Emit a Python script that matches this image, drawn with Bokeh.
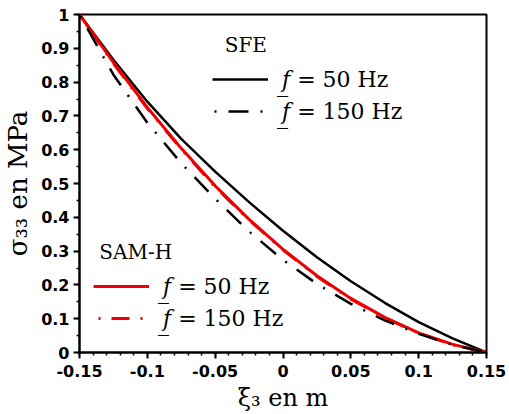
from bokeh.plotting import figure
from bokeh.models import (Range1d, FixedTicker, CustomJSTickFormatter, Legend, LegendItem)
from bokeh.embed import file_html
from bokeh.resources import INLINE

# ---------------- data ----------------
xi = [-0.15, -0.125, -0.1, -0.075, -0.05, -0.025, 0.0, 0.025, 0.05, 0.075, 0.1, 0.125, 0.15]
sfe_50 = [1.0, 0.866, 0.742, 0.632, 0.535, 0.445, 0.36, 0.282, 0.211, 0.147, 0.09, 0.042, 0.0]
sfe_150 = [1.0, 0.822, 0.68, 0.56, 0.455, 0.358, 0.274, 0.203, 0.144, 0.095, 0.055, 0.023, 0.0]
sam_50 = [1.0, 0.858, 0.725, 0.604, 0.493, 0.394, 0.305, 0.227, 0.16, 0.104, 0.058, 0.024, 0.0]
sam_150 = [1.0, 0.855, 0.722, 0.602, 0.49, 0.392, 0.304, 0.225, 0.158, 0.103, 0.057, 0.023, 0.0]

x_ticks = [-0.15, -0.1, -0.05, 0.0, 0.05, 0.1, 0.15]
x_minor = [round(-0.15 + 0.01 * i, 2) for i in range(31)]
y_ticks = [0.0, 0.1, 0.2, 0.3, 0.4, 0.5, 0.6, 0.7, 0.8, 0.9, 1.0]
y_minor = [round(0.05 * i, 2) for i in range(21)]

label_50 = "\U0001D453\u0332 = 50 Hz"
label_150 = "\U0001D453\u0332 = 150 Hz"

# ---------------- figure ----------------
p = figure(width=509, height=414, output_backend="svg", toolbar_location=None,
           x_range=Range1d(-0.15, 0.15), y_range=Range1d(0, 1),
           min_border_left=79, min_border_right=23, min_border_top=14, min_border_bottom=61)
p.grid.visible = False
p.outline_line_color = "black"
p.outline_line_width = 2
p.background_fill_color = "white"
p.border_fill_color = "white"

fmt = CustomJSTickFormatter(code="return String(parseFloat(tick.toFixed(2)));")
for ax, maj, mnr in ((p.xaxis[0], x_ticks, x_minor), (p.yaxis[0], y_ticks, y_minor)):
    ax.ticker = FixedTicker(ticks=maj, minor_ticks=mnr)
    ax.formatter = fmt
    ax.axis_line_width = 2
    ax.axis_line_color = "black"
    ax.major_tick_line_width = 2
    ax.minor_tick_line_width = 1.5
    ax.major_tick_out = 6
    ax.major_tick_in = 0
    ax.minor_tick_out = 3
    ax.minor_tick_in = 0
    ax.major_label_text_font = "DejaVu Sans"
    ax.major_label_text_font_style = "bold"
    ax.major_label_text_font_size = "16px"
    ax.major_label_text_color = "black"
    ax.axis_label_text_font = "DejaVu Serif"
    ax.axis_label_text_font_style = "normal"
    ax.axis_label_text_color = "black"

p.xaxis.axis_label = "\u03BE\u2083 en m"
p.yaxis.axis_label = "\u03C3\u2083\u2083 en MPa"
p.xaxis.axis_label_text_font_size = "24px"
p.yaxis.axis_label_text_font_size = "26px"
p.xaxis.major_label_standoff = 6
p.yaxis.major_label_standoff = 4
p.xaxis.axis_label_standoff = 4
p.yaxis.axis_label_standoff = 5

red = "#ee0000"
r_sfe50 = p.line(xi, sfe_50, line_color="black", line_width=2.5)
r_sam50 = p.line(xi, sam_50, line_color=red, line_width=3)
r_sam150 = p.line(xi, sam_150, line_color=red, line_width=3, line_dash="18 11 2 11", line_dash_offset=24)
r_sfe150 = p.line(xi, sfe_150, line_color="black", line_width=2.5, line_dash="20 12 2 12", line_dash_offset=30)


def make_legend(title, items, loc):
    lg = Legend(title=title, items=items, location=loc)
    lg.border_line_color = None
    lg.background_fill_alpha = 0
    lg.padding = 0
    lg.margin = 0
    lg.spacing = 4
    lg.glyph_width = 56
    lg.glyph_height = 28
    lg.label_height = 28
    lg.label_standoff = 14
    lg.label_text_font = "DejaVu Serif"
    lg.label_text_font_size = "22px"
    lg.label_text_color = "black"
    lg.title_text_font = "DejaVu Serif"
    lg.title_text_font_style = "normal"
    lg.title_text_font_size = "20px"
    lg.title_text_color = "black"
    lg.title_standoff = 8
    return lg


leg1 = make_legend("\u00A0\u00A0SFE", [LegendItem(label=label_50, renderers=[r_sfe50]),
                                      LegendItem(label=label_150, renderers=[r_sfe150])], (133, 227))
leg2 = make_legend("\u00A0SAM-H", [LegendItem(label=label_50, renderers=[r_sam50]),
                                  LegendItem(label=label_150, renderers=[r_sam150])], (14, 20))
p.add_layout(leg1)
p.add_layout(leg2)

open("out.html", "w").write(file_html(p, INLINE))
